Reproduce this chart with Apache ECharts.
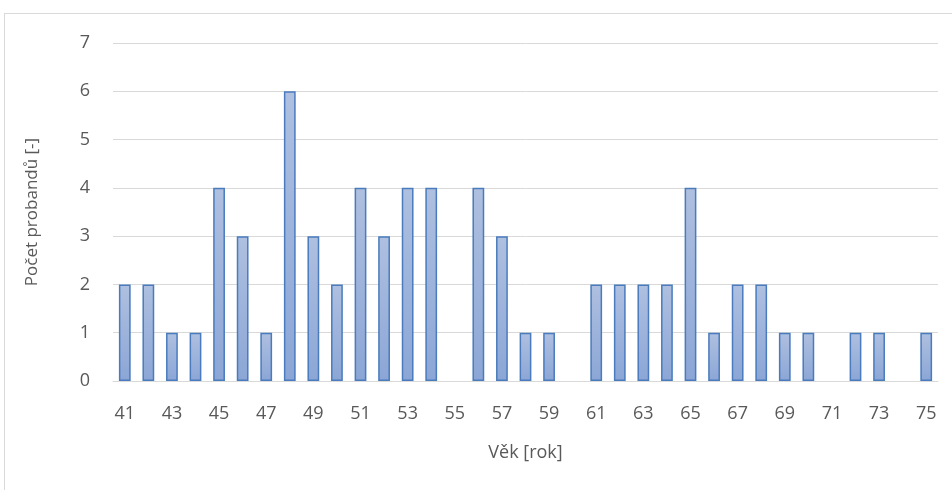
<!DOCTYPE html>
<html>
<head>
<meta charset="utf-8">
<script src="https://cdn.jsdelivr.net/npm/echarts@6/dist/echarts.min.js"></script>
<style>
html,body{margin:0;padding:0;background:#fff;}
#frame{position:absolute;left:4px;top:13px;width:960px;height:490px;border:1px solid #d9d9d9;box-sizing:border-box;}
#chart{position:absolute;left:0;top:0;width:952px;height:490px;}
</style>
</head>
<body>
<div id="frame"></div>
<div id="chart"></div>
<script>
// Age of participants (years)
const ages = ['41','42','43','44','45','46','47','48','49','50','51','52','53','54','55','56','57','58','59','60','61','62','63','64','65','66','67','68','69','70','71','72','73','74','75'];
// Number of participants per age
const counts = [2,2,1,1,4,3,1,6,3,2,4,3,4,4,0,4,3,1,1,0,2,2,2,2,4,1,2,2,1,1,0,1,1,0,1];

const font = '"Open Sans", "Liberation Sans", sans-serif';
const barFill = new echarts.graphic.LinearGradient(0, 0, 0, 1, [
  {offset: 0, color: '#afc0e0'},
  {offset: 1, color: '#8ba6d6'}
]);
// empty ages get no outline, so nothing is drawn for them
const barData = counts.map(v => v === 0
  ? {value: v, itemStyle: {borderWidth: 0, color: 'transparent'}}
  : v);

const chart = echarts.init(document.getElementById('chart'), null, {renderer: 'canvas'});
chart.setOption({
  animation: false,
  backgroundColor: 'transparent',
  grid: {left: 113, right: 14, top: 43, bottom: 109, containLabel: false},
  xAxis: {
    type: 'category',
    data: ages,
    name: 'Věk [rok]',
    nameLocation: 'middle',
    nameGap: 63,
    nameTextStyle: {color: '#595959', fontSize: 18, fontFamily: font},
    axisLine: {show: true, lineStyle: {color: '#d9d9d9', width: 1}},
    axisTick: {show: false},
    axisLabel: {interval: 1, color: '#595959', fontSize: 18, fontFamily: font, margin: 24}
  },
  yAxis: {
    type: 'value',
    min: 0, max: 7, interval: 1,
    name: 'Počet probandů [-]',
    nameLocation: 'middle',
    nameGap: 72,
    nameTextStyle: {color: '#595959', fontSize: 17, fontFamily: font},
    axisLine: {show: false},
    axisTick: {show: false},
    axisLabel: {color: '#595959', fontSize: 18, fontFamily: font, margin: 23},
    splitLine: {lineStyle: {color: '#d9d9d9', width: 1}}
  },
  series: [{
    type: 'bar',
    data: barData,
    barWidth: '50%',
    itemStyle: {
      color: barFill,
      borderColor: '#4a7bbd',
      borderWidth: 1.5
    }
  }]
});
</script>
</body>
</html>
